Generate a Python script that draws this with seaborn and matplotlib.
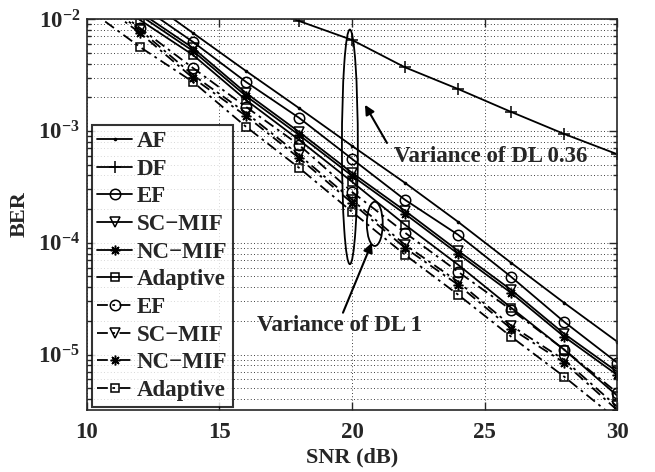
import numpy as np
import pandas as pd
import matplotlib
matplotlib.use("Agg")
import matplotlib.pyplot as plt
import seaborn as sns
from matplotlib.patches import Ellipse
from matplotlib.ticker import LogLocator, FuncFormatter, FixedLocator

# SNR points (dB)
snr = [10, 12, 14, 16, 18, 20, 22, 24, 26, 28, 30]

# variance of DL 0.36 (solid)
ber_af = [3.5e-2, 1.64e-2, 7.5e-3, 3.43e-3, 1.6e-3, 7.35e-4, 3.43e-4, 1.54e-4, 6.63e-5, 2.91e-5, 1.31e-5]
ber_df = [None, None, None, 1.5e-2, 9.6e-3, 6.5e-3, 3.7e-3, 2.37e-3, 1.48e-3, 9.4e-4, 6.2e-4]
ber_ef = [3.0e-2, 1.33e-2, 6.24e-3, 2.74e-3, 1.31e-3, 5.62e-4, 2.42e-4, 1.18e-4, 4.97e-5, 1.97e-5, 8.49e-6]
ber_sc = [2.6e-2, 1.15e-2, 5.51e-3, 2.18e-3, 9.8e-4, 4.22e-4, 1.93e-4, 8.49e-5, 3.8e-5, 1.54e-5, 7.05e-6]
ber_nc = [2.45e-2, 1.08e-2, 5.18e-3, 2.05e-3, 9.2e-4, 3.97e-4, 1.81e-4, 7.98e-5, 3.57e-5, 1.45e-5, 6.6e-6]
ber_ad = [2.2e-2, 9.8e-3, 4.77e-3, 1.89e-3, 8.31e-4, 3.51e-4, 1.45e-4, 6.37e-5, 2.63e-5, 1.11e-5, 4.31e-6]

# variance of DL 1 (dash-dot)
ber_ef1 = [1.9e-2, 8.3e-3, 3.65e-3, 1.64e-3, 7.5e-4, 2.85e-4, 1.23e-4, 5.51e-5, 2.52e-5, 1.11e-5, 4.58e-6]
ber_sc1 = [1.8e-2, 7.98e-3, 3.16e-3, 1.45e-3, 6.1e-4, 2.42e-4, 9.6e-5, 4.49e-5, 1.82e-5, 9.0e-6, 3.44e-6]
ber_nc1 = [1.7e-2, 7.5e-3, 2.97e-3, 1.36e-3, 5.73e-4, 2.27e-4, 9.0e-5, 4.22e-5, 1.71e-5, 8.5e-6, 3.2e-6]
ber_ad1 = [1.25e-2, 5.62e-3, 2.74e-3, 1.09e-3, 4.68e-4, 1.89e-4, 7.81e-5, 3.44e-5, 1.45e-5, 6.37e-6, 2.63e-6]

sns.set_style("ticks")
plt.rcParams["font.family"] = ["Liberation Serif", "DejaVu Serif"]
plt.rcParams["font.weight"] = "bold"
plt.rcParams["mathtext.fontset"] = "custom"
plt.rcParams["mathtext.bf"] = "Liberation Serif:bold"
plt.rcParams["mathtext.rm"] = "Liberation Serif:bold"

fig = plt.figure(figsize=(6.55, 4.72), dpi=100)
ax = fig.add_axes([0.1328, 0.1314, 0.8092, 0.8283])

dashdot = (0, (6, 2.5, 1.5, 2.5))
series = [
    ("AF", ber_af, ".", "-", 3),
    ("DF", ber_df, "+", "-", 9),
    ("EF", ber_ef, "o", "-", 7.5),
    ("SC\u2212MIF", ber_sc, "v", "-", 7.5),
    ("NC\u2212MIF", ber_nc, (8, 2, 0), "-", 7),
    ("Adaptive", ber_ad, "s", "-", 6),
    ("EF", ber_ef1, "o", dashdot, 7.5),
    ("SC\u2212MIF", ber_sc1, "v", dashdot, 7.5),
    ("NC\u2212MIF", ber_nc1, (8, 2, 0), dashdot, 7),
    ("Adaptive", ber_ad1, "s", dashdot, 6),
]

for name, vals, mk, ls, ms in series:
    df = pd.DataFrame({"snr": snr, "ber": vals}).dropna()
    sns.lineplot(data=df, x="snr", y="ber", ax=ax, color="k", marker=mk,
                 linestyle=ls, linewidth=1.3, markersize=ms,
                 markerfacecolor="none", markeredgecolor="k",
                 markeredgewidth=1.1, label=name, legend=False)

ax.set_yscale("log")
ax.set_xlim(10, 30)
ax.set_ylim(3.2e-6, 1e-2)

ax.xaxis.set_major_locator(FixedLocator([10, 15, 20, 25, 30]))
ax.yaxis.set_major_locator(LogLocator(base=10, numticks=10))
ax.yaxis.set_minor_locator(LogLocator(base=10, subs=np.arange(2, 10), numticks=20))
ax.yaxis.set_major_formatter(FuncFormatter(lambda v, p: r"$\mathbf{10^{%d}}$" % round(np.log10(v))))
ax.yaxis.set_minor_formatter(FuncFormatter(lambda v, p: ""))

ax.grid(True, which="major", axis="both", linestyle=(0, (1, 3)), color="k", linewidth=0.6)
ax.grid(True, which="minor", axis="y", linestyle=(0, (1, 3)), color="k", linewidth=0.6)
ax.tick_params(which="both", direction="in", top=True, right=True, labelsize=16.5, width=1)
ax.tick_params(axis="x", pad=9)
ax.tick_params(axis="y", pad=5)
ax.tick_params(which="major", length=6)
ax.tick_params(which="minor", length=3)
for s in ax.spines.values():
    s.set_linewidth(1.2)

ax.set_xlabel("SNR (dB)", fontsize=16, fontweight="bold", labelpad=3)
ax.set_ylabel("BER", fontsize=16, fontweight="bold", labelpad=6)

leg = ax.legend(loc="lower left", bbox_to_anchor=(0.009, 0.008), borderaxespad=0,
                fontsize=16.5, frameon=True, fancybox=False, edgecolor="k",
                handlelength=1.5, handletextpad=0.2, labelspacing=0.29,
                borderpad=0.25)
leg.get_frame().set_linewidth(1.5)

# ellipses marking the two groups
ax.add_patch(Ellipse((0.496, 0.673), 0.030, 0.60, transform=ax.transAxes,
                     fill=False, edgecolor="k", linewidth=1.3))
ax.add_patch(Ellipse((0.543, 0.476), 0.030, 0.113, transform=ax.transAxes,
                     fill=False, edgecolor="k", linewidth=1.3))

arrow = dict(arrowstyle="-|>", color="k", lw=1.5, mutation_scale=14, shrinkA=0, shrinkB=0)
ax.annotate("", xy=(20.49, 1.71e-3), xytext=(21.32, 7.8e-4), arrowprops=arrow)
ax.text(25.25, 5.86e-4, "Variance of DL 0.36", fontsize=16.5, fontweight="bold",
        ha="center", va="center")
ax.annotate("", xy=(20.75, 1.0e-4), xytext=(19.66, 2.37e-5), arrowprops=arrow)
ax.text(19.51, 1.82e-5, "Variance of DL 1", fontsize=16.5, fontweight="bold",
        ha="center", va="center")

fig.savefig("out.png", dpi=100)
